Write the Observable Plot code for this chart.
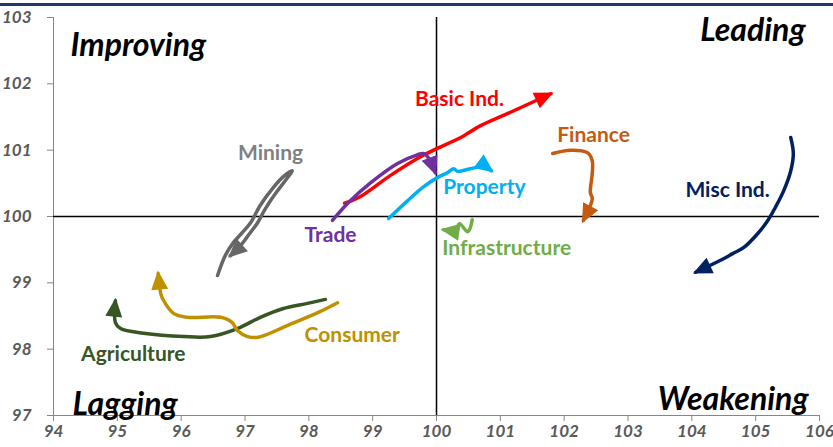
<!DOCTYPE html>
<html>
<head>
<meta charset="utf-8">
<script src="https://cdn.jsdelivr.net/npm/d3@7"></script>
<script src="https://cdn.jsdelivr.net/npm/@observablehq/plot@0.6"></script>
<style>
html, body { margin: 0; padding: 0; background: #fff; width: 833px; height: 447px; overflow: hidden; }
#wrap { position: relative; width: 833px; height: 447px; }
#chart { position: absolute; left: 0; top: 0; }
#rule { position: absolute; left: 0; top: 3px; width: 833px; height: 3px; background: #1f3864; z-index: 2; }
</style>
</head>
<body>
<div id="wrap"><div id="chart"></div><div id="rule"></div></div>
<script>
// ---- axes ----
const xTicks = [94, 95, 96, 97, 98, 99, 100, 101, 102, 103, 104, 105, 106];
const yTicks = [97, 98, 99, 100, 101, 102, 103];

// ---- quadrants ----
const quadrantNames = ["Improving", "Leading", "Lagging", "Weakening"];

// ---- series ----
const seriesNames = ["Basic Ind.", "Trade", "Mining", "Property", "Infrastructure", "Finance", "Misc Ind.", "Agriculture", "Consumer"];
const seriesColors = ["#ff0000", "#7030a0", "#666666", "#00b0f0", "#70ad47", "#c55a11", "#002060", "#375623", "#bf9000"];
const labelColors  = ["#ff0000", "#7030a0", "#808080", "#00b0f0", "#70ad47", "#c55a11", "#002060", "#375623", "#bf9000"];

const basicIndX = [98.56, 98.79, 99.28, 99.75, 100.02, 100.38, 100.69, 101.11, 101.79];
const basicIndY = [100.20, 100.29, 100.62, 100.90, 101.03, 101.19, 101.37, 101.55, 101.85];

const tradeX = [98.37, 98.61, 98.97, 99.39, 99.70, 99.80, 99.87, 99.98];
const tradeY = [99.94, 100.20, 100.51, 100.80, 100.93, 100.95, 100.89, 100.66];

const miningX = [96.57, 96.69, 96.82, 96.96, 97.09, 97.24, 97.43, 97.60, 97.74, 97.63, 97.48, 97.32, 97.20, 97.07, 96.93, 96.77];
const miningY = [99.11, 99.41, 99.61, 99.76, 99.91, 100.17, 100.42, 100.60, 100.69, 100.54, 100.35, 100.12, 99.91, 99.74, 99.56, 99.41];

const propertyX = [99.25, 99.55, 99.80, 100.02, 100.17, 100.27, 100.33, 100.53, 100.74, 100.86];
const propertyY = [99.97, 100.24, 100.45, 100.59, 100.66, 100.72, 100.68, 100.72, 100.75, 100.69];

const infrastructureX = [100.56, 100.49, 100.36, 100.30, 100.11];
const infrastructureY = [99.95, 99.77, 99.89, 99.80, 99.80];

const financeX = [101.82, 102.10, 102.37, 102.44, 102.44, 102.41, 102.44, 102.30];
const financeY = [100.95, 101.00, 100.96, 100.84, 100.65, 100.36, 100.27, 99.94];

const miscIndX = [105.55, 105.59, 105.55, 105.44, 105.31, 105.19, 105.03, 104.81, 104.64, 104.45, 104.06];
const miscIndY = [101.19, 100.95, 100.69, 100.39, 100.14, 99.94, 99.74, 99.53, 99.44, 99.34, 99.16];

const agricultureX = [98.26, 97.98, 97.59, 97.24, 96.88, 96.46, 96.04, 95.41, 95.05, 94.97, 94.97];
const agricultureY = [98.75, 98.69, 98.61, 98.48, 98.31, 98.19, 98.19, 98.24, 98.31, 98.40, 98.73];

const consumerX = [98.45, 98.14, 97.67, 97.21, 97.04, 96.88, 96.80, 96.62, 96.10, 95.88, 95.71, 95.68, 95.64];
const consumerY = [98.70, 98.55, 98.36, 98.18, 98.19, 98.28, 98.40, 98.48, 98.48, 98.54, 98.76, 98.84, 99.14];

// label anchor values (data coords)
const labelX = [100.36, 98.34, 97.40, 100.75, 101.10, 102.46, 104.56, 95.25, 98.68];
const labelY = [101.77, 99.71, 100.95, 100.44, 99.52, 101.22, 100.40, 97.93, 98.21];

// ---- build tables ----
const seriesXY = [
  [basicIndX, basicIndY], [tradeX, tradeY], [miningX, miningY], [propertyX, propertyY],
  [infrastructureX, infrastructureY], [financeX, financeY], [miscIndX, miscIndY],
  [agricultureX, agricultureY], [consumerX, consumerY]
];
const points = [];
seriesXY.forEach(([xs, ys], i) => xs.forEach((x, j) => points.push({series: seriesNames[i], x, y: ys[j]})));
const labels = seriesNames.map((s, i) => ({series: s, x: labelX[i], y: labelY[i], color: labelColors[i]}));

const font = "Lato, 'Open Sans', sans-serif";
const fmt = d3.format("d");

const plot = Plot.plot({
  width: 833,
  height: 447,
  marginTop: 17,
  marginBottom: 32,
  marginLeft: 53,
  marginRight: 14,
  style: {fontFamily: font, background: "transparent"},
  x: {domain: [94, 106], label: null},
  y: {domain: [97, 103], label: null},
  color: {domain: seriesNames, range: seriesColors},
  marks: [
    // axis lines
    Plot.ruleX([94], {stroke: "#868686", strokeWidth: 1}),
    Plot.ruleY([97], {stroke: "#868686", strokeWidth: 1}),
    // ticks
    Plot.axisX(xTicks, {tickSize: 6, tickFormat: () => "", stroke: "#868686"}),
    Plot.axisY(yTicks, {tickSize: 6, tickFormat: () => "", stroke: "#868686"}),
    // tick labels
    Plot.axisX(xTicks, {tickSize: 0, tickPadding: 9, tickFormat: fmt, fill: "#595959", fontSize: 17, fontStyle: "italic", fontWeight: "bold"}),
    Plot.axisY(yTicks, {tickSize: 0, tickPadding: 22, tickFormat: fmt, fill: "#595959", fontSize: 17, fontStyle: "italic", fontWeight: "bold"}),
    // quadrant dividers
    Plot.ruleY([100], {stroke: "#000", strokeWidth: 1.5}),
    Plot.ruleX([100], {stroke: "#000", strokeWidth: 1.5}),
    // quadrant names
    Plot.text([quadrantNames[0]], {frameAnchor: "top-left", dx: 17, dy: 16, fontSize: 32, fontWeight: "bold", fontStyle: "italic", fill: "#000"}),
    Plot.text([quadrantNames[1]], {frameAnchor: "top-right", dx: -14, dy: 1, fontSize: 32, fontWeight: "bold", fontStyle: "italic", fill: "#000"}),
    Plot.text([quadrantNames[2]], {frameAnchor: "bottom-left", dx: 19, dy: -1, fontSize: 32, fontWeight: "bold", fontStyle: "italic", fill: "#000"}),
    Plot.text([quadrantNames[3]], {frameAnchor: "bottom-right", dx: -11, dy: -6, fontSize: 32, fontWeight: "bold", fontStyle: "italic", fill: "#000"}),
    // series paths
    Plot.line(points, {x: "x", y: "y", z: "series", stroke: "series", strokeWidth: 3.5, curve: "catmull-rom", markerEnd: "arrow", strokeLinecap: "round", strokeLinejoin: "round"}),
    // series labels
    Plot.text(labels, {x: "x", y: "y", text: "series", fill: "color", fontSize: 21, fontWeight: "bold"})
  ]
});

// restyle the arrow markers as filled triangles
plot.querySelectorAll("marker").forEach(m => {
  const c = m.getAttribute("stroke");
  m.setAttribute("markerUnits", "userSpaceOnUse");
  m.setAttribute("markerWidth", 10);
  m.setAttribute("markerHeight", 10);
  m.setAttribute("viewBox", "-5 -5 10 10");
  m.setAttribute("overflow", "visible");
  m.setAttribute("fill", c);
  m.setAttribute("stroke", "none");
  const p = m.querySelector("path");
  if (p) p.setAttribute("d", "M-16,-8.5L3,0L-16,8.5Z");
});

document.getElementById("chart").appendChild(plot);
</script>
</body>
</html>
